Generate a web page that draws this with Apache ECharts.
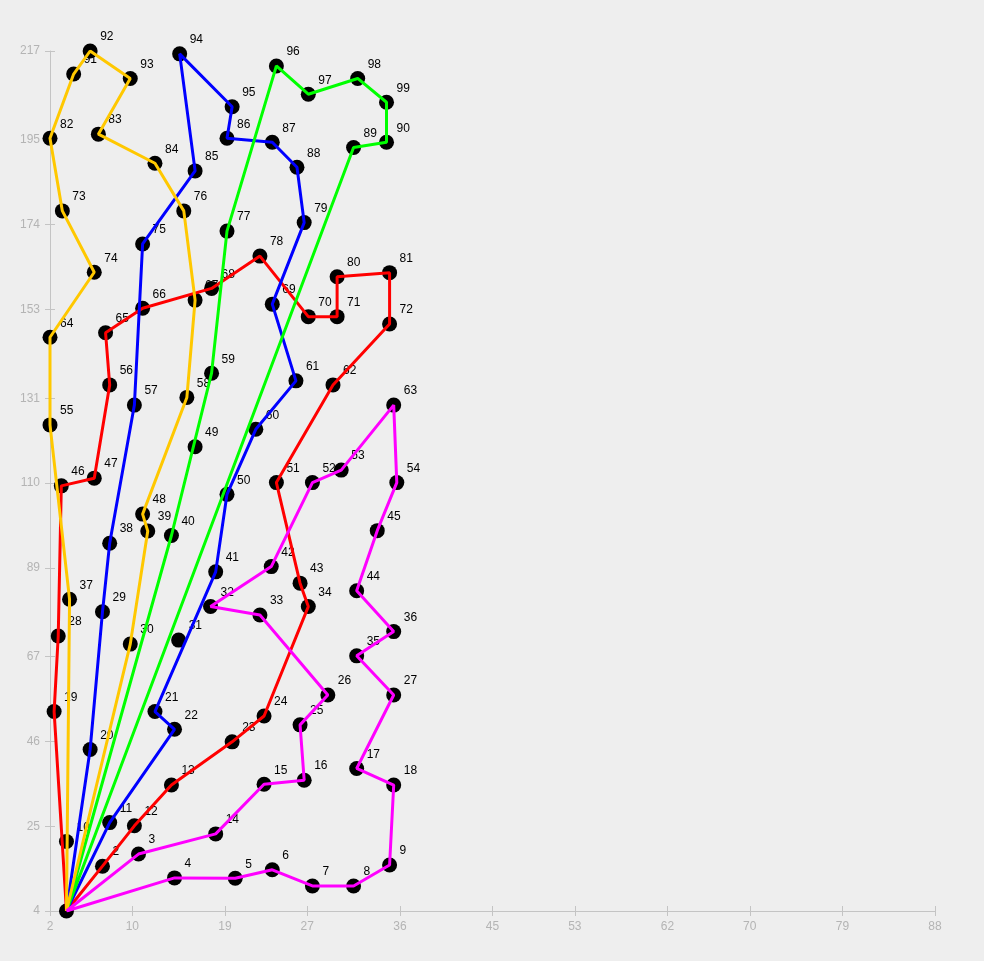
<!DOCTYPE html>
<html><head><meta charset="utf-8">
<script src="https://cdn.jsdelivr.net/npm/echarts@6/dist/echarts.min.js"></script>
<style>html,body{margin:0;padding:0;background:#eeeeee;}#c{width:984px;height:961px;}</style>
</head><body><div id="c"></div><script>
const depotX = 3.6, depotY = 4;
const pointLabels = [2,3,4,5,6,7,8,9,
 10,11,12,13,14,15,16,17,18,
 19,20,21,22,23,24,25,26,27,
 28,29,30,31,32,33,34,35,36,
 37,38,39,40,41,42,43,44,45,
 46,47,48,49,50,51,52,53,54,
 55,56,57,58,59,60,61,62,63,
 64,65,66,67,68,69,70,71,72,
 73,74,75,76,77,78,79,80,81,
 82,83,84,85,86,87,88,89,90,
 91,92,93,94,95,96,97,98,99];
const pointX = [7.1,10.6,14.1,20.0,23.6,27.5,31.5,35.0,
 3.6,7.8,10.2,13.8,18.1,22.8,26.7,31.8,35.4,
 2.4,5.9,12.2,14.1,19.7,22.8,26.3,29.0,35.4,
 2.8,7.1,9.8,14.5,17.6,22.4,27.1,31.8,35.4,
 3.9,7.8,11.5,13.8,18.1,23.5,26.3,31.8,33.8,
 3.1,6.3,11.0,16.1,19.2,24.0,27.5,30.3,35.7,
 2.0,7.8,10.2,15.3,17.7,22.0,25.9,29.5,35.4,
 2.0,7.4,11.0,16.1,17.7,23.6,27.1,29.9,35.0,
 3.2,6.3,11.0,15.0,19.2,22.4,26.7,29.9,35.0,
 2.0,6.7,12.2,16.1,19.2,23.6,26.0,31.5,34.7,
 4.3,5.9,9.8,14.6,19.7,24.0,27.1,31.9,34.7];
const pointY = [15.1,18.1,12.2,12.1,14.2,10.2,10.2,15.4,
 21.2,25.9,25.1,35.2,23.1,35.4,36.4,39.3,35.2,
 53.4,44.0,53.4,49.0,45.9,52.3,50.1,57.5,57.5,
 72.1,78.1,70.1,71.1,79.4,77.3,79.4,67.2,73.2,
 81.2,95.1,98.1,97.0,88.0,89.3,85.2,83.3,98.2,
 109.3,111.2,102.3,119.0,107.2,110.1,110.1,113.2,110.1,
 124.4,134.3,129.3,131.2,137.2,123.3,135.3,134.3,129.3,
 146.1,147.2,153.3,155.3,158.2,154.3,151.2,151.2,149.4,
 177.4,162.2,169.2,177.4,172.4,166.2,174.5,161.1,162.1,
 195.4,196.4,189.2,187.3,195.4,194.4,188.2,193.1,194.4,
 211.3,217.0,210.2,216.3,203.2,213.3,206.3,210.2,204.3];
const xTicks = [2,10,19,27,36,45,53,62,70,79,88];
const yTicks = [4,25,46,67,89,110,131,153,174,195,217];
// routes: 0 = depot
const routeRed = [0,19,28,46,47,56,65,66,68,78,70,71,80,81,72,62,51,43,34,24,23,13,12,2,0];
const routeBlue = [0,20,29,38,57,75,85,94,95,86,87,88,79,69,61,60,50,41,21,22,11,0];
const routeGreen = [0,40,59,77,96,97,98,99,90,89,0];
const routeOrange = [0,30,39,48,58,67,76,84,83,93,92,91,82,73,74,64,55,37,0];
const routeMagenta = [0,4,5,6,7,8,9,18,17,27,35,36,44,45,54,63,53,52,42,32,33,26,25,16,15,14,3,0];
const routeList = [routeRed, routeBlue, routeGreen, routeOrange, routeMagenta];
const routeColors = ['#ff0000','#0000ff','#00ff00','#ffc800','#ff00ff'];

function coord(id){
  if (id === 0) return [depotX, depotY];
  const i = pointLabels.indexOf(id);
  return [pointX[i], pointY[i]];
}
const axisCol = '#c4c4c4', labCol = '#b4b4b4';
const font = 'Liberation Sans';
function mkX(inner){
  return {type:'value', min:2, max:88, position:'bottom', gridIndex:0,
    splitLine:{show:false},
    axisLine:{show:!inner, onZero:false, lineStyle:{color:axisCol, width:1}},
    axisTick:{show:true, inside:inner, length:5, customValues:xTicks, lineStyle:{color:axisCol}},
    axisLabel:{show:!inner, customValues:xTicks, color:labCol, margin:10, fontSize:12, fontFamily:font}};
}
function mkY(inner){
  return {type:'value', min:4, max:217, position:'left', gridIndex:0,
    splitLine:{show:false},
    axisLine:{show:!inner, onZero:false, lineStyle:{color:axisCol, width:1}},
    axisTick:{show:true, inside:inner, length:5, customValues:yTicks, lineStyle:{color:axisCol}},
    axisLabel:{show:!inner, customValues:yTicks, color:labCol, margin:10, fontSize:12, fontFamily:font}};
}
const series = [];
series.push({type:'scatter', xAxisIndex:0, yAxisIndex:0, z:2, symbol:'circle', symbolSize:15,
  itemStyle:{color:'#000', opacity:1}, silent:true,
  data: pointLabels.map((l,i)=>({name:String(l), value:[pointX[i], pointY[i]]})),
  label:{show:true, formatter:'{b}', position:[17.5,-6.5], align:'left', verticalAlign:'middle',
    color:'#000', fontSize:12, fontFamily:font}
});
series.push({type:'scatter', xAxisIndex:0, yAxisIndex:0, z:2, symbol:'circle', symbolSize:15,
  itemStyle:{color:'#000', opacity:1}, silent:true, data:[[depotX, depotY]]});
routeList.forEach((r,k)=>{
  series.push({type:'line', xAxisIndex:0, yAxisIndex:0, z:3+k, symbol:'none', silent:true,
    lineStyle:{color:routeColors[k], width:3}, data:r.map(coord)});
});
const chart = echarts.init(document.getElementById('c'));
chart.setOption({
  backgroundColor:'#eeeeee', animation:false,
  grid:{left:50, right:49, top:51, bottom:50, containLabel:false},
  xAxis:[mkX(false), mkX(true)],
  yAxis:[mkY(false), mkY(true)],
  series: series
});
</script></body></html>
